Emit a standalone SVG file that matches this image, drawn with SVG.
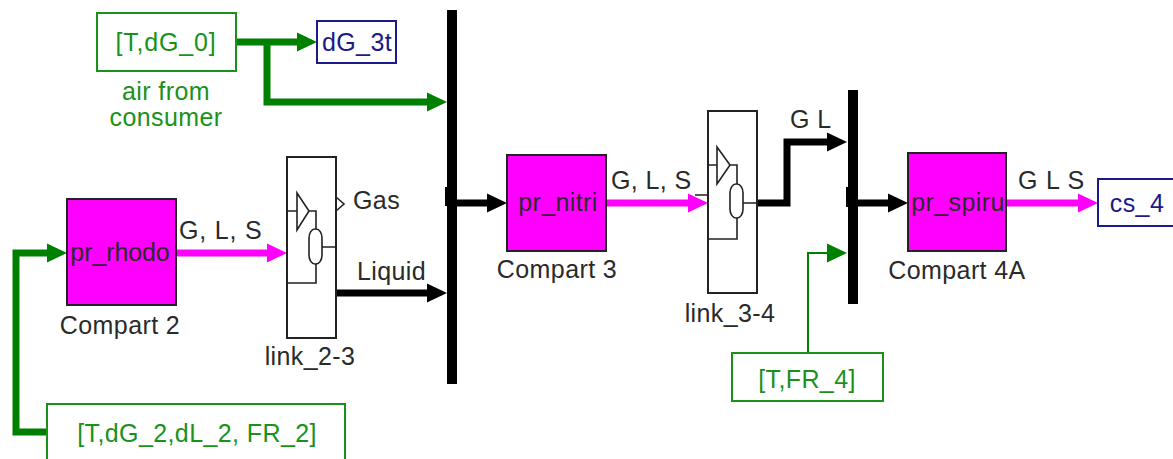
<svg xmlns="http://www.w3.org/2000/svg" width="1173" height="459" viewBox="0 0 1173 459">
<style>
text{font-family:"Liberation Sans",Arial,sans-serif;font-size:25px;letter-spacing:.4px;fill:#2a2a2a}
.g{fill:#1a921a}
.b{fill:#1a1a8a}
.ctr{text-anchor:middle}
.tight{letter-spacing:-.1px}
.wide{letter-spacing:.8px}
.box{fill:#fff;stroke-width:2}
.pr{fill:#f0f;stroke:#222;stroke-width:2}
.lk{fill:#fff;stroke:#222;stroke-width:2}
.in{fill:none;stroke:#222;stroke-width:1.6}
.w{fill:none;stroke-width:7}
</style>
<defs>
<marker id="ag" markerUnits="userSpaceOnUse" markerWidth="22" markerHeight="20" refX="7" refY="10" orient="auto"><path d="M0 .5L20 10L0 19.5Z" fill="#008000"/></marker>
<marker id="ak" markerUnits="userSpaceOnUse" markerWidth="22" markerHeight="20" refX="7" refY="10" orient="auto"><path d="M0 .5L20 10L0 19.5Z" fill="#000"/></marker>
<marker id="am" markerUnits="userSpaceOnUse" markerWidth="22" markerHeight="20" refX="7" refY="10" orient="auto"><path d="M0 .5L20 10L0 19.5Z" fill="#f0f"/></marker>
</defs>
<g id="connectors">
<path class="w" stroke="#008000" d="M236 42H304" marker-end="url(#ag)"/>
<path class="w" stroke="#008000" d="M267 42V102H434" marker-end="url(#ag)"/>
<path class="w" stroke="#008000" d="M47 432H16V253H54" marker-end="url(#ag)"/>
<path class="w" stroke="#f0f" d="M176 253H274" marker-end="url(#am)"/>
<path class="w" stroke="#000" d="M336 293H434" marker-end="url(#ak)"/>
<path class="w" stroke="#000" d="M452 203H494" marker-end="url(#ak)"/>
<path class="w" stroke="#f0f" d="M606 203H695" marker-end="url(#am)"/>
<path class="w" stroke="#000" d="M757 203H787V142H834" marker-end="url(#ak)"/>
<path fill="none" stroke="#008000" stroke-width="2" d="M808 353V253H834" marker-end="url(#ag)"/>
<path class="w" stroke="#000" d="M852 203H895" marker-end="url(#ak)"/>
<path class="w" stroke="#f0f" d="M1006 203H1085" marker-end="url(#am)"/>
</g>
<g id="bus1"><rect x="447" y="10" width="10" height="374" fill="#000"/><rect x="445" y="187" width="4" height="19" fill="#000"/></g>
<g id="bus2"><rect x="848" y="90" width="10" height="214" fill="#000"/><rect x="846" y="187" width="4" height="20" fill="#000"/></g>
<g id="from-dG0"><rect class="box" x="97" y="13" width="139" height="58" stroke="#1a921a"/><text class="g ctr wide" x="166" y="51">[T,dG_0]</text><text class="g ctr" x="166" y="100">air from</text><text class="g ctr" x="166" y="126">consumer</text></g>
<g id="to-dG3t"><rect class="box" x="317" y="21" width="79" height="42" stroke="#1a1a8a"/><text class="b ctr" x="357" y="51">dG_3t</text></g>
<g id="from-FR2"><rect class="box" x="47" y="404" width="298" height="70" stroke="#1a921a"/><text class="g ctr" x="197" y="442">[T,dG_2,dL_2, FR_2]</text></g>
<g id="from-FR4"><rect class="box" x="732" y="353" width="151" height="48" stroke="#1a921a"/><text class="g ctr" x="807" y="388">[T,FR_4]</text></g>
<g id="to-cs4"><rect class="box" x="1098" y="179" width="76" height="47" stroke="#1a1a8a"/><text class="b ctr" x="1137" y="212">cs_4</text></g>
<g id="compart2"><rect class="pr" x="67" y="199" width="109" height="106"/><text class="ctr tight" x="120" y="261">pr_rhodo</text><text class="ctr" x="120" y="334">Compart 2</text></g>
<g id="compart3"><rect class="pr" x="507" y="155" width="99" height="96"/><text class="ctr" x="558" y="211">pr_nitri</text><text class="ctr" x="557" y="278">Compart 3</text></g>
<g id="compart4a"><rect class="pr" x="908" y="153" width="98" height="98"/><text class="ctr" x="958" y="211">pr_spiru</text><text class="ctr" x="957" y="279">Compart 4A</text></g>
<g id="link23"><rect class="lk" x="287" y="157" width="49" height="181"/>
<path class="in" d="M287 211H297M297 193L309 211L297 230ZM309 211H316V229M316 264V283H287M322 247H336"/><rect class="in" x="309" y="229" width="13" height="35" rx="6" ry="9"/>
<path class="in" d="M336 197L344 204L336 211"/>
<text x="353" y="209">Gas</text><text x="357" y="280">Liquid</text><text class="ctr" x="310" y="365">link_2-3</text></g>
<g id="link34"><rect class="lk" x="708" y="111" width="49" height="182"/>
<path class="in" d="M695 195H708M708 165H717M717 147L730 165L717 184ZM730 165H737V184M737 218V239H708M743 203H757"/><rect class="in" x="730" y="184" width="13" height="34" rx="6" ry="9"/>
<text class="ctr" x="730" y="322">link_3-4</text></g>
<g id="labels"><text class="wide" x="179" y="239">G, L, S</text><text x="611" y="189">G, L, S</text><text x="790" y="128">G L</text><text class="wide" x="1018" y="189">G L S</text></g>
</svg>
